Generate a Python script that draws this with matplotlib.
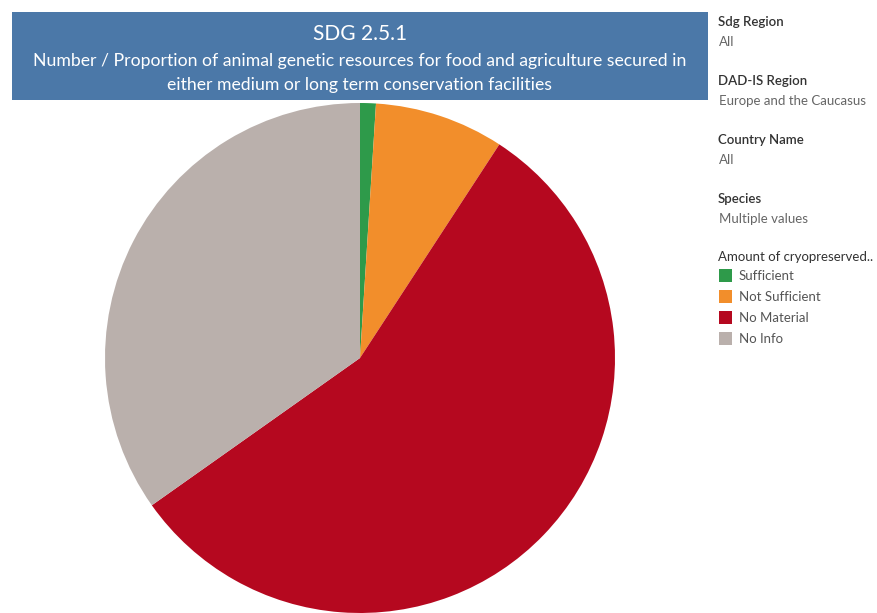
import matplotlib
matplotlib.use("Agg")
import matplotlib.pyplot as plt
from matplotlib.patches import Rectangle

categories = ["Sufficient", "Not Sufficient", "No Material", "No Info"]
values = [1.0, 8.2, 56.0, 34.8]
colors = ["#2e9a4a", "#f28e2b", "#b5081f", "#bab0ac"]

title = "SDG 2.5.1"
subtitle = ("Number / Proportion of animal genetic resources for food and agriculture secured in\n"
            "either medium or long term conservation facilities")
filters = [("Sdg Region", "All"), ("DAD-IS Region", "Europe and the Caucasus"),
           ("Country Name", "All"), ("Species", "Multiple values")]
legend_title = "Amount of cryopreserved.."

W, H = 878, 613
fig = plt.figure(figsize=(W / 100, H / 100), dpi=100)
plt.rcParams['font.family'] = ['Lato', 'DejaVu Sans']

cx, cy, r = 360, 358, 255
ax = fig.add_axes([(cx - r) / W, (H - cy - r) / H, 2 * r / W, 2 * r / H])
ax.pie(values, colors=colors, startangle=90, counterclock=False, radius=1,
       wedgeprops=dict(linewidth=0))
ax.set_xlim(-1, 1)
ax.set_ylim(-1, 1)
ax.set_aspect('equal')
ax.axis('off')

def fx(px):
    return px / W

def fy(py):
    return 1 - py / H

# banner
fig.patches.append(Rectangle((fx(12), fy(100)), fx(708) - fx(12), fy(12) - fy(100),
                             transform=fig.transFigure, facecolor="#4b78a8",
                             edgecolor="none", zorder=5))
fig.text(fx(360), fy(34), title, ha='center', va='center', color='white',
         fontsize=15, zorder=6)
fig.text(fx(360), fy(73), subtitle, ha='center', va='center', color='white',
         fontsize=12.7, linespacing=1.6, zorder=6)

# filters
y = 22
for head, val in filters:
    fig.text(fx(718), fy(y), head, ha='left', va='center', color='#333333',
             fontsize=9.5, fontweight='semibold')
    fig.text(fx(719), fy(y + 20), val, ha='left', va='center', color='#666666',
             fontsize=9.5)
    y += 59

fig.text(fx(718), fy(257), legend_title, ha='left', va='center', color='#333333',
         fontsize=9.5)
for i, (c, col) in enumerate(zip(categories, colors)):
    yy = 276 + 21 * i
    fig.patches.append(Rectangle((fx(719), fy(yy + 6)), fx(13), 13 / H,
                                 transform=fig.transFigure, facecolor=col,
                                 edgecolor='none'))
    fig.text(fx(739), fy(yy), c, ha='left', va='center', color='#555555',
             fontsize=9.5)

fig.savefig("out.png", dpi=100)
